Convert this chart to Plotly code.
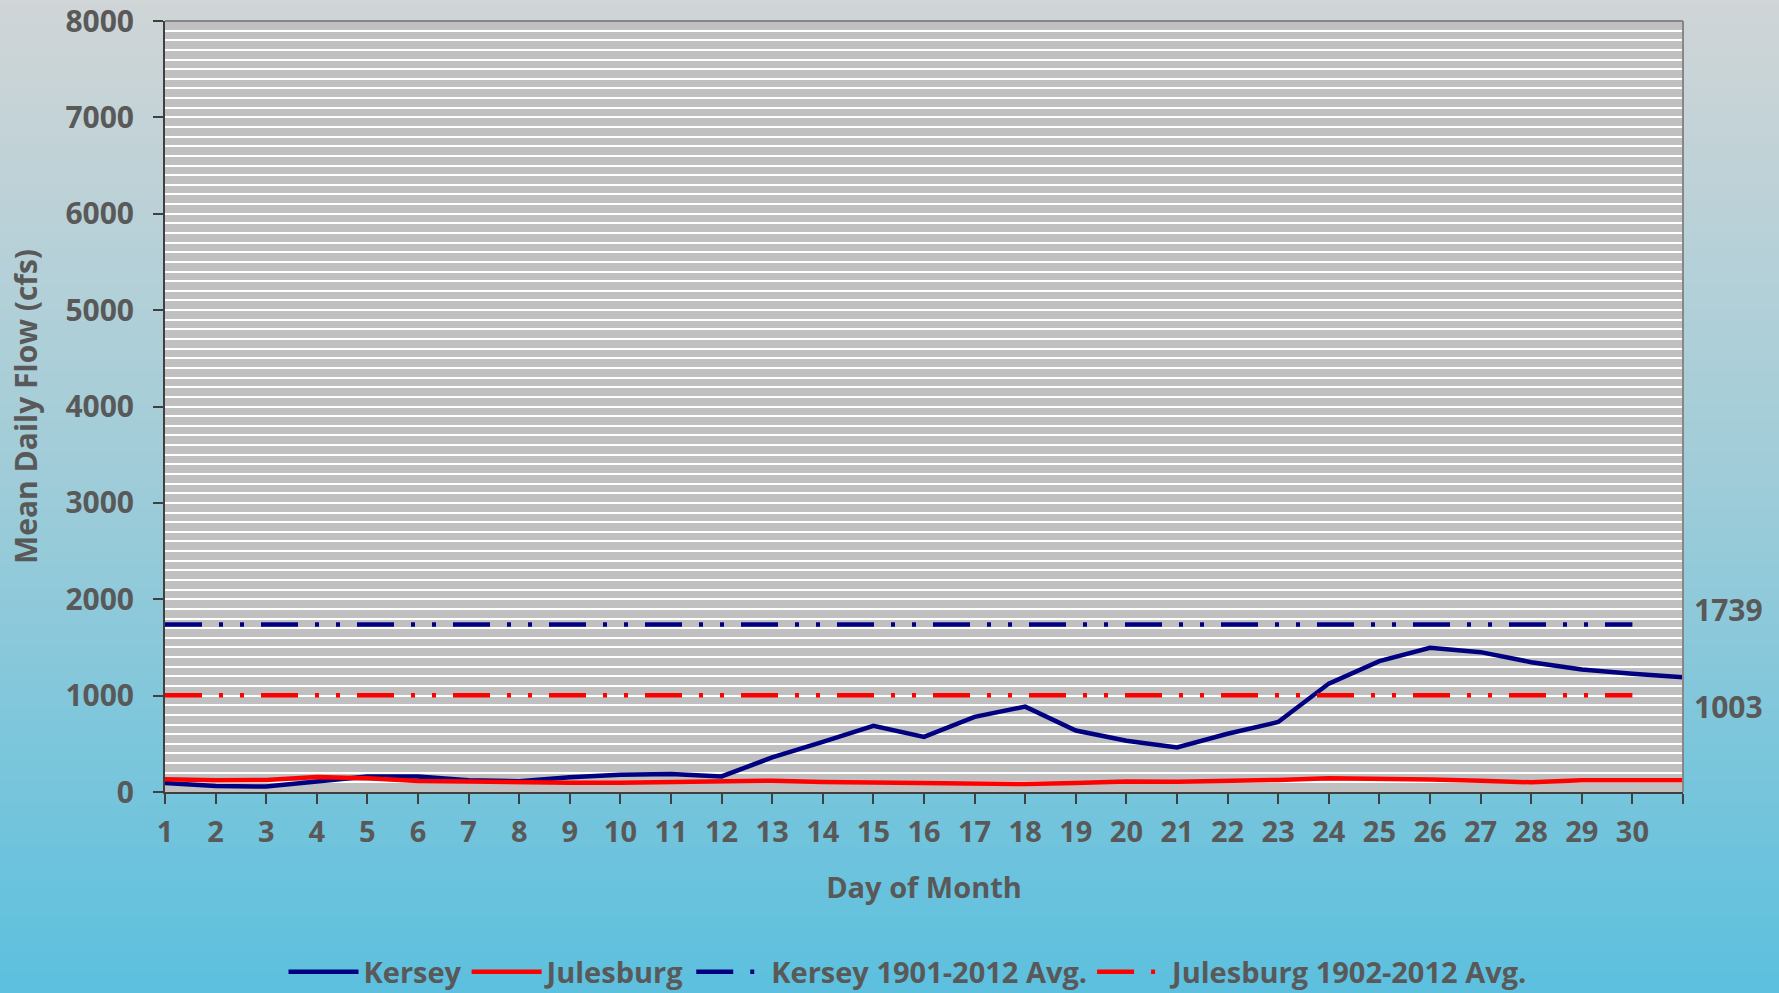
import plotly.graph_objects as go

# ---------------- data ----------------
days = list(range(1, 32))
day_labels = [str(d) for d in range(1, 31)] + [""]
kersey = [94, 62, 56, 104, 160, 160, 122, 111, 153, 180, 186, 162, 359, 521, 686,
          572, 779, 886, 638, 531, 462, 604, 726, 1125, 1358, 1497, 1451, 1347, 1271, 1226, 1191]
julesburg = [132, 122, 125, 156, 142, 115, 108, 100, 97, 97, 100, 110, 117, 103, 97,
             97, 90, 83, 93, 110, 107, 112, 125, 142, 140, 130, 118, 100, 122, 120, 122]
avg_days = list(range(1, 31))
kersey_avg = 1739
julesburg_avg = 1003
series_names = ["Kersey", "Julesburg", "Kersey 1901-2012 Avg.", "Julesburg 1902-2012 Avg."]

# ---------------- style ----------------
W, H = 1779, 993
ML, MR, MT, MB = 165, 96, 21, 201
PW, PH = W - ML - MR, H - MT - MB
TXT = "#595959"
FONT = "Open Sans"
NAVY = "#000080"
RED = "#FF0000"
DASH = "37px,17px,4px,17px,4px,17px"

fig = go.Figure()
fig.add_trace(go.Scatter(x=days, y=kersey, mode="lines", name=series_names[0],
                         line=dict(color=NAVY, width=4.5)))
fig.add_trace(go.Scatter(x=days, y=julesburg, mode="lines", name=series_names[1],
                         line=dict(color=RED, width=4.5)))
fig.add_trace(go.Scatter(x=avg_days, y=[kersey_avg] * len(avg_days), mode="lines",
                         name=series_names[2], line=dict(color=NAVY, width=4.5, dash=DASH)))
fig.add_trace(go.Scatter(x=avg_days, y=[julesburg_avg] * len(avg_days), mode="lines",
                         name=series_names[3], line=dict(color=RED, width=4.5, dash=DASH)))

# background gradient (paper) via stripes
def lerp(a, b, t):
    return tuple(int(round(a[i] + (b[i] - a[i]) * t)) for i in range(3))

stops = [(0.0, (208, 213, 215)), (0.45, (163, 205, 216)), (1.0, (92, 192, 222))]
def grad(t):
    for (t0, c0), (t1, c1) in zip(stops[:-1], stops[1:]):
        if t <= t1:
            return lerp(c0, c1, (t - t0) / (t1 - t0))
    return stops[-1][1]

shapes = []
N = 160
x0p, x1p = -ML / PW, (W - ML) / PW
for i in range(N):
    top_px = H * i / N - 1
    bot_px = H * (i + 1) / N + 1
    c = grad((i + 0.5) / N)
    shapes.append(dict(type="rect", xref="paper", yref="paper", layer="below",
                       x0=x0p, x1=x1p,
                       y0=(H - MB - bot_px) / PH, y1=(H - MB - top_px) / PH,
                       fillcolor="rgb(%d,%d,%d)" % c, line=dict(width=0)))
# plot area fill
shapes.append(dict(type="rect", xref="paper", yref="paper", layer="below",
                   x0=0, x1=1, y0=0, y1=1, fillcolor="#C0C0C0", line=dict(width=0)))
# top and right border
shapes.append(dict(type="line", xref="paper", yref="paper", layer="above",
                   x0=0, x1=1, y0=1, y1=1, line=dict(color="#868686", width=2)))
shapes.append(dict(type="line", xref="paper", yref="paper", layer="above",
                   x0=1, x1=1, y0=0, y1=1, line=dict(color="#868686", width=2)))

annotations = [
    dict(xref="paper", yref="y", x=(1692 - ML) / PW, y=kersey_avg, yshift=15,
         text=str(kersey_avg), showarrow=False, xanchor="left", yanchor="middle",
         font=dict(family=FONT, size=30, color=TXT, weight="bold")),
    dict(xref="paper", yref="y", x=(1692 - ML) / PW, y=julesburg_avg, yshift=-11,
         text=str(julesburg_avg), showarrow=False, xanchor="left", yanchor="middle",
         font=dict(family=FONT, size=30, color=TXT, weight="bold")),
]

fig.update_layout(
    width=W, height=H,
    margin=dict(l=ML, r=MR, t=MT, b=MB, autoexpand=False),
    paper_bgcolor="rgb(150,200,218)",
    plot_bgcolor="#C0C0C0",
    shapes=shapes,
    annotations=annotations,
    showlegend=True,
    legend=dict(orientation="h", x=(909 - ML) / PW, xanchor="center",
                yref="container", y=(H - 972) / H, yanchor="middle",
                bgcolor="rgba(0,0,0,0)",
                font=dict(family=FONT, size=29, color=TXT, weight="bold"),
                itemwidth=70, tracegroupgap=0),
    font=dict(family=FONT, color=TXT),
)

fig.update_xaxes(
    range=[1, 31], tickmode="array", tickvals=days, ticktext=day_labels,
    showgrid=False, zeroline=False,
    showline=True, linecolor="#404040", linewidth=2,
    ticks="outside", ticklen=10, tickwidth=2, tickcolor="#404040",
    ticklabelstandoff=3, ticklabeloverflow="allow",
    tickfont=dict(family=FONT, size=29, color=TXT, weight="bold"),
    title=dict(text="Day of Month", standoff=29,
               font=dict(family=FONT, size=29, color=TXT, weight="bold")),
)
fig.update_yaxes(
    range=[0, 8000], tickmode="linear", tick0=0, dtick=1000,
    showgrid=True, gridcolor="#FFFFFF", gridwidth=2,
    minor=dict(dtick=100, showgrid=True, gridcolor="#FFFFFF", gridwidth=2),
    zeroline=False,
    showline=True, linecolor="#404040", linewidth=2,
    ticks="outside", ticklen=10, tickwidth=2, tickcolor="#404040",
    ticklabelstandoff=13, ticklabeloverflow="allow",
    tickfont=dict(family=FONT, size=30, color=TXT, weight="bold"),
    title=dict(text="Mean Daily Flow (cfs)", standoff=19,
               font=dict(family=FONT, size=30, color=TXT, weight="bold")),
)

fig.write_html("out.html", config={"displayModeBar": False},
               post_script="document.body.style.margin='0';document.body.style.overflow='hidden';")
